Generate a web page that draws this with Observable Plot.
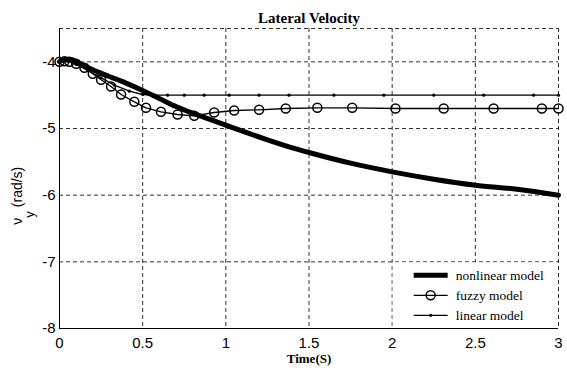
<!DOCTYPE html>
<html>
<head>
<meta charset="utf-8">
<script src="https://cdn.jsdelivr.net/npm/d3@7"></script>
<script src="https://cdn.jsdelivr.net/npm/@observablehq/plot@0.6"></script>
<style>
  html, body { margin: 0; padding: 0; background: white; }
</style>
</head>
<body>
<div id="chart"></div>
<script>
const title = "Lateral Velocity";
const xLabel = "Time(S)";
const xTicks = [0, 0.5, 1, 1.5, 2, 2.5, 3];
const yTicks = [-8, -7, -6, -5, -4];
const seriesNames = ["nonlinear model", "fuzzy model", "linear model"];

const nonlinearT = [0, 0.02, 0.05, 0.08, 0.1, 0.15, 0.2, 0.3, 0.4, 0.5, 0.6, 0.7, 0.8, 0.9, 1.0, 1.1, 1.25, 1.4, 1.5, 1.75, 2.0, 2.25, 2.5, 2.75, 3.0];
const nonlinearV = [-4.0, -3.97, -3.96, -3.97, -4.0, -4.06, -4.12, -4.22, -4.32, -4.43, -4.55, -4.67, -4.77, -4.86, -4.95, -5.04, -5.17, -5.29, -5.36, -5.52, -5.65, -5.76, -5.85, -5.91, -6.0];

const fuzzyT = [0, 0.03, 0.06, 0.1, 0.15, 0.2, 0.25, 0.31, 0.37, 0.45, 0.52, 0.61, 0.71, 0.81, 0.93, 1.05, 1.2, 1.36, 1.55, 1.76, 2.02, 2.31, 2.61, 2.9, 3.0];
const fuzzyV = [-4.0, -3.99, -4.0, -4.03, -4.09, -4.18, -4.27, -4.37, -4.49, -4.6, -4.69, -4.75, -4.79, -4.81, -4.76, -4.73, -4.72, -4.7, -4.69, -4.69, -4.7, -4.7, -4.7, -4.7, -4.7];

const linearT = [0, 0.05, 0.1, 0.17, 0.25, 0.33, 0.42, 0.5, 0.56, 0.65, 0.75, 0.87, 1.02, 1.2, 1.38, 1.65, 1.95, 2.25, 2.55, 2.85, 3.0];
const linearV = [-4.0, -3.99, -4.04, -4.13, -4.24, -4.35, -4.44, -4.49, -4.5, -4.5, -4.5, -4.5, -4.5, -4.5, -4.5, -4.5, -4.5, -4.5, -4.5, -4.5, -4.5];

const nonlinear = nonlinearT.map((t, i) => ({t, v: nonlinearV[i]}));
const fuzzy = fuzzyT.map((t, i) => ({t, v: fuzzyV[i]}));
const linear = linearT.map((t, i) => ({t, v: linearV[i]}));

const gridStyle = {stroke: "#333", strokeDasharray: "4,3", strokeWidth: 1};

const plot = Plot.plot({
  width: 567,
  height: 374,
  marginLeft: 59,
  marginRight: 9,
  marginTop: 28,
  marginBottom: 46,
  style: {fontFamily: "'Liberation Sans', Arial, sans-serif", fontSize: "15px", background: "white", color: "black"},
  x: {domain: [0, 3], ticks: xTicks, tickSize: 0, tickPadding: 9, label: null, tickFormat: d => String(d)},
  y: {domain: [-8, -3.5], ticks: yTicks, tickSize: 0, tickPadding: 4, label: null, tickFormat: d => String(d)},
  marks: [
    Plot.ruleX(xTicks.slice(1), gridStyle),
    Plot.ruleY([...yTicks.slice(1), -3.5], gridStyle),
    Plot.ruleX([0], {stroke: "black", strokeWidth: 1}),
    Plot.ruleY([-8], {stroke: "black", strokeWidth: 1}),
    Plot.line(linear, {x: "t", y: "v", stroke: "black", strokeWidth: 1.3}),
    Plot.dot(linear, {x: "t", y: "v", r: 1.6, fill: "black"}),
    Plot.line(fuzzy, {x: "t", y: "v", stroke: "black", strokeWidth: 1.3}),
    Plot.dot(fuzzy, {x: "t", y: "v", r: 4.5, fill: "none", stroke: "black", strokeWidth: 1.5}),
    Plot.line(nonlinear, {x: "t", y: "v", stroke: "black", strokeWidth: 5, curve: "monotone-x"}),
    Plot.text([title], {frameAnchor: "top", dy: -16, fontFamily: "'Liberation Serif', 'Times New Roman', serif", fontWeight: "bold", fontSize: 15}),
    Plot.text([xLabel], {frameAnchor: "bottom", dy: 34, fontFamily: "'Liberation Serif', 'Times New Roman', serif", fontWeight: "bold", fontSize: 13})
  ]
});

document.getElementById("chart").appendChild(plot);

const svg = d3.select(plot);
const xs = plot.scale("x"), ys = plot.scale("y");

// y-axis label with subscript
const yl = svg.append("text")
  .attr("transform", `translate(22, ${ys.apply(-6.45)}) rotate(-90)`)
  .attr("text-anchor", "start")
  .attr("font-family", "'Liberation Sans', Arial, sans-serif")
  .attr("font-size", 14)
  .attr("fill", "black");
yl.append("tspan").text("ν");
yl.append("tspan").attr("dy", 12).attr("font-size", 13).text("y");
yl.append("tspan").attr("dy", -12).attr("dx", 4).text("(rad/s)");

// legend
const lx0 = xs.apply(2) + 1, lx1 = xs.apply(3) - 1;
const ly0 = ys.apply(-7) + 1, ly1 = ys.apply(-8) - 1;
const lg = svg.append("g").attr("text-anchor", "start");
lg.append("rect").attr("x", lx0).attr("y", ly0).attr("width", lx1 - lx0).attr("height", ly1 - ly0).attr("fill", "white");
const rows = [ly0 + 13, ly0 + 33, ly0 + 53];
const sx0 = lx0 + 21, sx1 = lx0 + 55;
seriesNames.forEach((name, i) => {
  const y = rows[i];
  const sw = i === 0 ? 5 : 1.3;
  lg.append("line").attr("x1", sx0).attr("x2", sx1).attr("y1", y).attr("y2", y).attr("stroke", "black").attr("stroke-width", sw);
  if (i === 1) lg.append("circle").attr("cx", (sx0 + sx1) / 2).attr("cy", y).attr("r", 4.5).attr("fill", "none").attr("stroke", "black").attr("stroke-width", 1.5);
  if (i === 2) lg.append("circle").attr("cx", (sx0 + sx1) / 2).attr("cy", y).attr("r", 1.6).attr("fill", "black");
  lg.append("text").attr("x", sx1 + 8).attr("y", y).attr("dy", "0.35em").attr("text-anchor", "start")
    .attr("font-family", "'Liberation Serif', 'Times New Roman', serif").attr("font-size", 13.5).attr("fill", "black").text(name);
});
</script>
</body>
</html>
